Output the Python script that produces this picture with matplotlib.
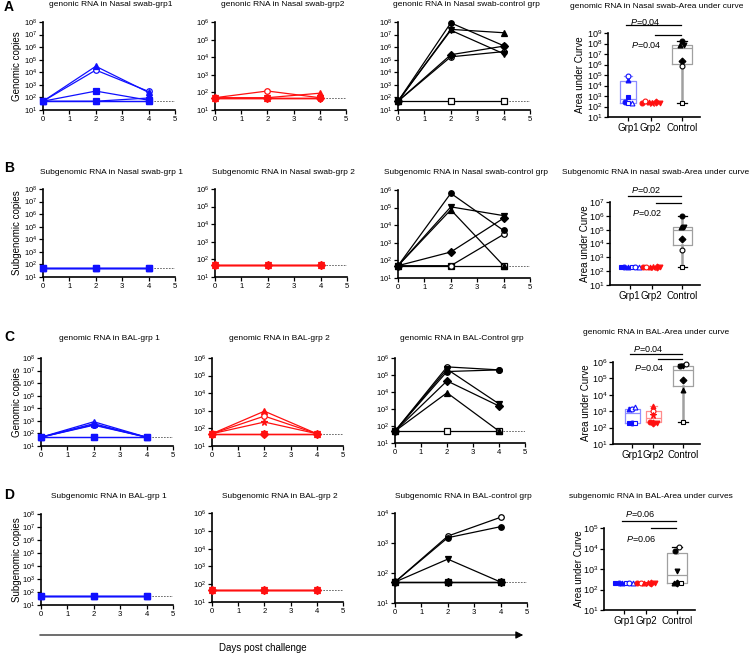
"""Viral RNA time courses and area-under-curve box plots, panels A-D."""

import matplotlib
matplotlib.use("Agg")
import matplotlib.pyplot as plt
import numpy as np
from matplotlib.patches import FancyArrowPatch

plt.rcParams["font.family"] = ["Liberation Sans", "DejaVu Sans"]
plt.rcParams["mathtext.fontset"] = "custom"
plt.rcParams["mathtext.rm"] = "Liberation Sans"
plt.rcParams["mathtext.it"] = "Liberation Sans:italic"
plt.rcParams["mathtext.default"] = "regular"

DAYS = [0, 2, 4]
LOD = 50

# series order per group -> see *_MARKERS below
A_GRP1 = [[50, 3.2e2, 60], [50, 50, 90], [50, 3.0e4, 2.5e2],
          [50, 50, 50], [50, 1.5e4, 3.0e2], [50, 50, 50]]
A_GRP2 = [[50, 50, 50], [50, 1.2e2, 50], [50, 50, 90],
          [50, 50, 50], [50, 50, 50], [50, 50, 50]]
A_CTRL = [[50, 8.5e7, 1.3e6], [50, 2.6e7, 1.4e7], [50, 2.2e7, 3.0e5],
          [50, 2.5e5, 1.2e6], [50, 1.7e5, 4.4e5], [50, 50, 50]]
A_AUC_GRP1 = [8.3e2, 2.7e2, 3.2e4, 2.1e2, 7.6e4, 2.1e2]
A_AUC_GRP2 = [2.2e2, 3.4e2, 2.8e2, 2.3e2, 2.5e2, 2.2e2]
A_AUC_CTRL = [1.6e8, 6.7e7, 8.0e7, 2.0e6, 7.0e5, 2.0e2]

B_GRP1 = [[50, 50, 50]] * 6
B_GRP2 = [[50, 50, 50]] * 6
B_CTRL = [[50, 6.5e5, 5.0e3], [50, 7.5e4, 50], [50, 1.1e5, 3.5e4],
          [50, 3.0e2, 2.5e4], [50, 50, 3.0e3], [50, 50, 50]]
B_AUC_GRP1 = [2e2] * 6
B_AUC_GRP2 = [2e2] * 6
B_AUC_CTRL = [1.0e6, 1.6e5, 1.6e5, 2.0e4, 3.3e3, 2.1e2]

C_GRP1 = [[50, 50, 50], [50, 4.5e2, 50], [50, 6.0e2, 50],
          [50, 50, 50], [50, 5.0e2, 50], [50, 8.5e2, 50]]
C_GRP2 = [[50, 50, 50], [50, 5.0e2, 50], [50, 9.5e2, 50],
          [50, 2.3e2, 50], [50, 50, 50], [50, 50, 50]]
C_CTRL = [[50, 1.6e5, 2.0e5], [50, 9.0e3, 50], [50, 2.2e5, 2.0e3],
          [50, 4.5e4, 1.5e3], [50, 3.0e5, 2.0e5], [50, 50, 50]]
C_AUC_GRP1 = [2.0e2, 2.0e2, 1.4e3, 2.0e2, 1.3e3, 1.8e3]
C_AUC_GRP2 = [2.2e2, 1.1e3, 2.2e3, 5.5e2, 2.0e2, 2.0e2]
C_AUC_CTRL = [5.5e5, 1.9e4, 6.0e5, 8.5e4, 7.9e5, 2.2e2]

D_GRP1 = [[50, 50, 50]] * 6
D_GRP2 = [[50, 50, 50]] * 6
D_CTRL = [[50, 1.5e3, 3.5e3], [50, 50, 50], [50, 2.9e2, 50],
          [50, 50, 50], [50, 1.7e3, 7.2e3], [50, 50, 50]]
D_AUC_GRP1 = [2e2] * 6
D_AUC_GRP2 = [2e2] * 6
D_AUC_CTRL = [7.6e3, 2.0e2, 8.1e2, 2.0e2, 1.2e4, 2.1e2]

GROUP_NAMES = ["Grp1", "Grp2", "Control"]
GRP1_MARKERS = [("s", True), ("o", True), ("^", True), ("s", False), ("o", False), ("^", False)]
GRP2_MARKERS = [("o", True), ("o", False), ("^", True), ("*", True), ("D", True), ("v", True)]
CTRL_MARKERS = [("o", True), ("^", True), ("v", True), ("D", True), ("o", False), ("s", False)]

BLUE, RED, BLACK = "#1010ff", "#ff1010", "black"
BOX_EDGE = ["#8c8cff", "#ff8c8c", "#a0a0a0"]

W, H = 756, 654
fig = plt.figure(figsize=(W / 100, H / 100), dpi=100)


def add_ax(x0, y0, x1, y1):
    return fig.add_axes([x0 / W, 1 - y1 / H, (x1 - x0) / W, (y1 - y0) / H])


def ftext(x, y, s, **kw):
    fig.text(x / W, 1 - y / H, s, **kw)


def style_axis(ax, ytop, fs):
    ax.set_yscale("log")
    ax.set_ylim(10, 10 ** ytop)
    ax.set_yticks([10 ** k for k in range(1, ytop + 1)])
    ax.minorticks_off()
    for side in ("top", "right"):
        ax.spines[side].set_visible(False)
    for side in ("left", "bottom"):
        ax.spines[side].set_linewidth(1.2)
    ax.tick_params(length=3, width=0.9, labelsize=fs, pad=1)
    ax.patch.set_alpha(0)


def time_course(ax, series, markers, color, ytop):
    ax.plot([0, 5], [LOD, LOD], ls=(0, (2, 1.5)), lw=0.6, color="#555555", zorder=1)
    for z, (vals, (m, filled)) in reversed(list(enumerate(zip(series, markers)))):
        ms = 5 if m == "*" else 4
        ax.plot(DAYS, vals, color=color, lw=0.9, marker=m, ms=ms,
                mfc=color if filled else "white", mec=color, mew=0.9,
                clip_on=False, zorder=3 + (len(series) - z) * 0.1)
    ax.set_xlim(0, 5)
    ax.set_xticks(range(6))
    style_axis(ax, ytop, 5.5)


def spread(vals, step=0.16):
    logs = np.log10(vals)
    offs = np.zeros(len(vals))
    used = [False] * len(vals)
    for i in range(len(vals)):
        if used[i]:
            continue
        grp = [j for j in range(len(vals)) if not used[j] and abs(logs[j] - logs[i]) < 0.2]
        for j in grp:
            used[j] = True
        for k, j in enumerate(grp):
            offs[j] = (k - (len(grp) - 1) / 2) * step
    return offs


def auc_box(ax, groups, ytop, pval, lines, texts):
    pos = [0, 1, 2.4]
    bp = ax.boxplot(groups, positions=pos, widths=[0.7, 0.7, 0.9], whis=(0, 100),
                    showfliers=False, manage_ticks=False)
    for i, edge in enumerate(BOX_EDGE):
        bp["boxes"][i].set(color=edge, lw=0.9)
        bp["medians"][i].set(color=edge, lw=0.9)
        for w in bp["whiskers"][2 * i:2 * i + 2]:
            w.set(color=edge, lw=1.8 if i == 2 else 0.9)
        for c in bp["caps"][2 * i:2 * i + 2]:
            c.set(color="black" if i == 2 else edge, lw=0.9)
    mk_sets = [GRP1_MARKERS, GRP2_MARKERS, CTRL_MARKERS]
    colors = [BLUE, RED, BLACK]
    for i, vals in enumerate(groups):
        offs = spread(vals)
        for v, o, (m, filled) in zip(vals, offs, mk_sets[i]):
            ax.plot(pos[i] + o, v, ls="none", marker=m, ms=4.5 if m == "*" else 3.5,
                    mfc=colors[i] if filled else "white", mec=colors[i], mew=0.8,
                    zorder=4, clip_on=False)
    ax.set_xlim(-0.9, 3.2)
    ax.set_xticks(pos)
    ax.set_xticklabels(GROUP_NAMES)
    style_axis(ax, ytop, 6.5)
    ax.tick_params(axis="x", labelsize=7)
    tr = ax.get_xaxis_transform()
    ax.plot([-0.1, 2.35], [lines[0]] * 2, color="black", lw=0.9, transform=tr, clip_on=False)
    ax.plot([1.2, 2.35], [lines[1]] * 2, color="black", lw=0.9, transform=tr, clip_on=False)
    label = r"$\mathit{P}$=" + pval
    ax.text(0.75, texts[0], label, transform=tr, ha="center", va="center", fontsize=6.5)
    ax.text(0.8, texts[1], label, transform=tr, ha="center", va="center", fontsize=6.5)


rows = [
    dict(letter="A", ly=7, ylabel="Genomic copies",
         data=(A_GRP1, A_GRP2, A_CTRL), auc=(A_AUC_GRP1, A_AUC_GRP2, A_AUC_CTRL),
         titles=["genonic RNA in Nasal swab-grp1", "genonic RNA in Nasal swab-grp2",
                 "genonic RNA in Nasal swab-control grp",
                 "genomic RNA in Nasal swab-Area under curve"],
         ty=5, ty4=7, tx4=657, tops=(8, 6, 8, 9), pval="0.04", yl4=580,
         boxes=[(43, 22, 175, 110), (215, 22, 346, 110), (398, 22, 530, 110), (608, 33, 700, 117)],
         lines=(1.095, 0.976), texts=(1.135, 0.857)),
    dict(letter="B", ly=168, ylabel="Subgenomic copies",
         data=(B_GRP1, B_GRP2, B_CTRL), auc=(B_AUC_GRP1, B_AUC_GRP2, B_AUC_CTRL),
         titles=["Subgenomic RNA in Nasal swab-grp 1", "Subgenomic RNA in Nasal swab-grp 2",
                 "Subgenomic RNA in Nasal swab-control grp",
                 "Subgenomic RNA in nasal swab-Area under curve"],
         ty=172, ty4=173, tx4=656, tops=(8, 6, 6, 7), pval="0.02", yl4=585,
         boxes=[(43, 189, 175, 277), (215, 189, 347, 277), (398, 190, 530, 278), (610, 202, 700, 285)],
         lines=(1.072, 0.988), texts=(1.145, 0.867)),
    dict(letter="C", ly=337, ylabel="Genomic copies",
         data=(C_GRP1, C_GRP2, C_CTRL), auc=(C_AUC_GRP1, C_AUC_GRP2, C_AUC_CTRL),
         titles=["genomic RNA in BAL-grp 1", "genomic RNA in BAL-grp 2",
                 "genomic RNA in BAL-Control grp", "genomic RNA in BAL-Area under curve"],
         ty=339, ty4=332, tx4=656, tops=(8, 6, 6, 6), pval="0.04", yl4=586,
         boxes=[(41, 358, 173, 446), (212, 358, 343, 446), (395, 358, 525, 443), (613, 362, 700, 444)],
         lines=(1.10, 1.037), texts=(1.16, 0.927)),
    dict(letter="D", ly=495, ylabel="Subgenomic copies",
         data=(D_GRP1, D_GRP2, D_CTRL), auc=(D_AUC_GRP1, D_AUC_GRP2, D_AUC_CTRL),
         titles=["Subgenomic RNA in BAL-grp 1", "Subgenomic RNA in BAL-grp 2",
                 "Subgenomic RNA in BAL-control grp", "subgenomic RNA in BAL-Area under curves"],
         ty=497, ty4=497, tx4=651, tops=(8, 6, 4, 5), pval="0.06", yl4=579,
         boxes=[(41, 514, 173, 605), (212, 513, 343, 602), (395, 513, 527, 603), (604, 528, 695, 610)],
         lines=(1.085, 1.0), texts=(1.17, 0.866)),
]

for row in rows:
    ftext(4, row["ly"], row["letter"], fontsize=10, fontweight="bold", va="center")
    for c, (series, markers, color) in enumerate(zip(row["data"],
                                                     [GRP1_MARKERS, GRP2_MARKERS, CTRL_MARKERS],
                                                     [BLUE, RED, BLACK])):
        x0, y0, x1, y1 = row["boxes"][c]
        ax = add_ax(x0, y0, x1, y1)
        time_course(ax, series, markers, color, row["tops"][c])
        ftext((x0 + x1) / 2 + 2, row["ty"], row["titles"][c], fontsize=6, ha="center", va="center")
    x0, y0, x1, y1 = row["boxes"][0]
    ftext(17, (y0 + y1) / 2, row["ylabel"], fontsize=7, rotation=90, ha="center", va="center")

    x0, y0, x1, y1 = row["boxes"][3]
    ax = add_ax(x0, y0, x1, y1)
    auc_box(ax, list(row["auc"]), row["tops"][3], row["pval"], row["lines"], row["texts"])
    ftext(row["yl4"], (y0 + y1) / 2, "Area under Curve", fontsize=7, rotation=90,
          ha="center", va="center")
    ftext(row["tx4"], row["ty4"], row["titles"][3], fontsize=6, ha="center", va="center")

arrow = FancyArrowPatch((37 / W, 1 - 635 / H), (526 / W, 1 - 635 / H),
                        transform=fig.transFigure, arrowstyle="-|>",
                        mutation_scale=11, lw=0.8, color="black")
fig.add_artist(arrow)
ftext(263, 648, "Days post challenge", fontsize=7, ha="center", va="center")

fig.savefig("out.png", dpi=100)
